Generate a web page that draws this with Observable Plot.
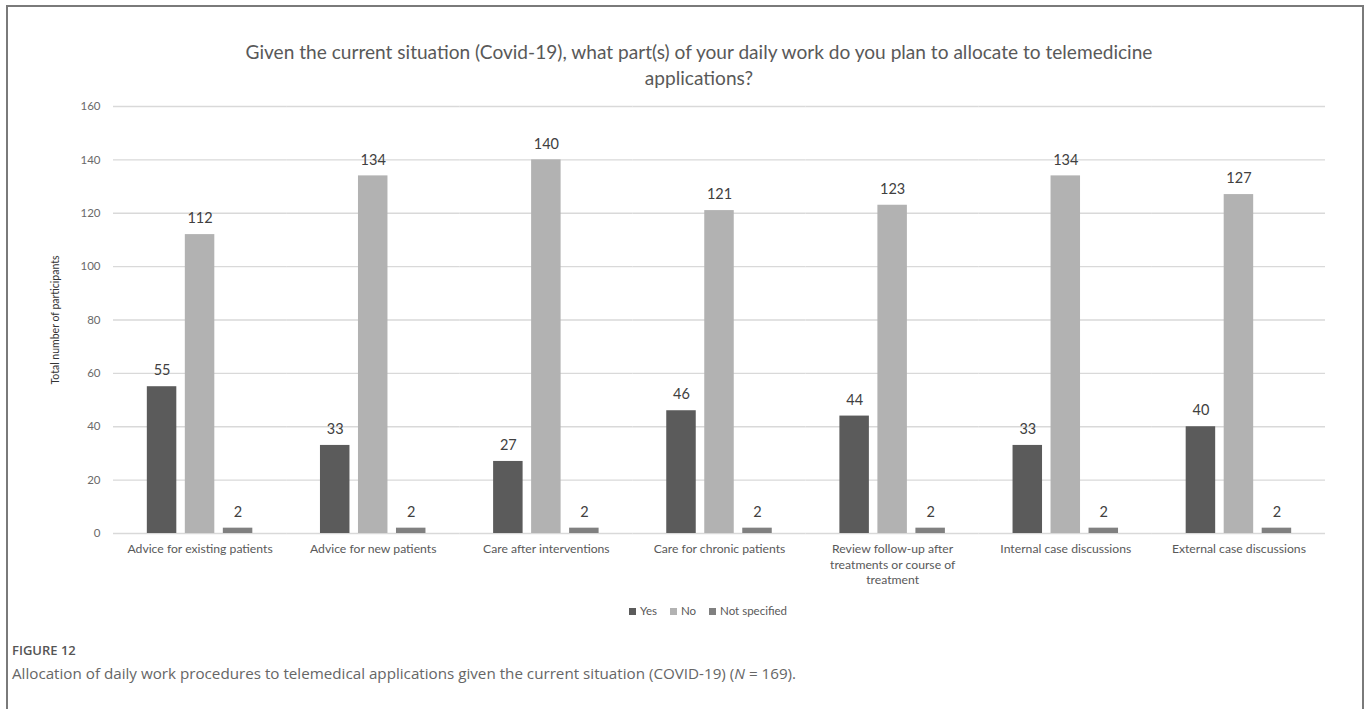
<!DOCTYPE html>
<html>
<head>
<meta charset="utf-8">
<script src="https://cdn.jsdelivr.net/npm/d3@7"></script>
<script src="https://cdn.jsdelivr.net/npm/@observablehq/plot@0.6"></script>
<style>
  html, body { margin: 0; padding: 0; background: #fff; }
  #page { position: relative; width: 1371px; height: 709px; overflow: hidden; font-family: Lato, "Open Sans", sans-serif; }
  #frame { position: absolute; left: 6px; top: 5px; width: 1358px; height: 760px; border: 2px solid #7a7a7a; box-sizing: border-box; }
  #title { position: absolute; left: 0; top: 39px; width: 1398px; text-align: center; font-size: 19.1px; line-height: 26px; color: #595959; }
  #chart { position: absolute; left: 0; top: 0; }
  #ytitle { position: absolute; left: 55px; top: 320px; transform: translate(-50%, -50%) rotate(-90deg); white-space: nowrap; font-size: 10.5px; color: #333; }
  #legend { position: absolute; left: 0; top: 604px; width: 1416px; display: flex; justify-content: center; gap: 13px; font-size: 11.5px; color: #595959; }
  #legend span.sw { display: inline-block; width: 7px; height: 7px; margin-right: 4px; vertical-align: 0px; }
  #fig { position: absolute; left: 12px; top: 641px; font-family: "Open Sans", sans-serif; font-size: 13px; font-weight: 600; color: #555; }
  #caption { position: absolute; left: 12px; top: 663px; font-family: "Open Sans", sans-serif; font-size: 15.2px; color: #666; }
</style>
</head>
<body>
<div id="page">
  <div id="frame"></div>
  <div id="chart"></div>
  <div id="title">Given the current situation (Covid-19), what part(s) of your daily work do you plan to allocate to telemedicine<br>applications?</div>
  <div id="ytitle">Total number of participants</div>
  <div id="legend"></div>
  <div id="fig">FIGURE 12</div>
  <div id="caption">Allocation of daily work procedures to telemedical applications given the current situation (COVID-19) (<i>N</i> = 169).</div>
</div>
<script>
// Work areas surveyed, with their wrapped axis labels
const categories = [
  "Advice for existing patients",
  "Advice for new patients",
  "Care after interventions",
  "Care for chronic patients",
  "Review follow-up after treatments or course of treatment",
  "Internal case discussions",
  "External case discussions"
];
const tickLabels = [
  "Advice for existing patients",
  "Advice for new patients",
  "Care after interventions",
  "Care for chronic patients",
  "Review follow-up after\ntreatments or course of\ntreatment",
  "Internal case discussions",
  "External case discussions"
];

// Answers per work area
const series = ["Yes", "No", "Not specified"];
const yes = [55, 33, 27, 46, 44, 33, 40];
const no = [112, 134, 140, 121, 123, 134, 127];
const notSpecified = [2, 2, 2, 2, 2, 2, 2];
const colors = ["#5b5b5b", "#b2b2b2", "#808080"];
const yTicks = [0, 20, 40, 60, 80, 100, 120, 140, 160];

const columns = [yes, no, notSpecified];
const data = categories.flatMap((category, i) =>
  series.map((s, j) => ({category, series: s, value: columns[j][i]}))
);

const chart = Plot.plot({
  width: 1371,
  height: 600,
  marginLeft: 113,
  marginRight: 46,
  marginTop: 106,
  marginBottom: 67,
  style: {background: "transparent", fontFamily: "Lato, 'Open Sans', sans-serif", overflow: "visible"},
  fx: {domain: categories, paddingInner: 0, paddingOuter: 0, round: false, label: null},
  x: {domain: series, paddingInner: 0.224, paddingOuter: 0.89, round: false, axis: null},
  y: {domain: [0, 160], label: null},
  color: {domain: series, range: colors},
  marks: [
    Plot.gridY(yTicks, {stroke: "#d9d9d9", strokeOpacity: 1, strokeWidth: 1.3}),
    Plot.axisY(yTicks, {tickSize: 0, tickPadding: 13, fontSize: 11.5, fill: "#6a6a6a", label: null, facetAnchor: "left"}),
    Plot.axisFx({
      anchor: "bottom",
      tickSize: 0, tickPadding: 9, fontSize: 12.2, fill: "#595959", lineHeight: 1.25, label: null,
      tickFormat: (c) => tickLabels[categories.indexOf(c)]
    }),
    Plot.barY(data, {fx: "category", x: "series", y: "value", fill: "series"}),
    Plot.text(data, {
      fx: "category", x: "series", y: "value", text: (d) => String(d.value),
      dy: -16, fontSize: 14.5, fill: "#404040"
    })
  ]
});
document.getElementById("chart").append(chart);

// Legend built from the same series and colours
const legend = document.getElementById("legend");
series.forEach((s, i) => {
  const item = document.createElement("span");
  const sw = document.createElement("span");
  sw.className = "sw";
  sw.style.background = colors[i];
  item.append(sw, document.createTextNode(s));
  legend.append(item);
});
</script>
</body>
</html>
